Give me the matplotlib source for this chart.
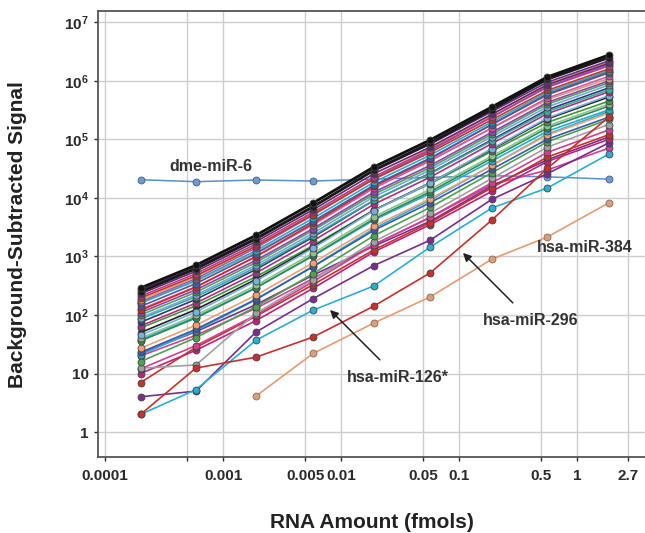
import numpy as np
import matplotlib
matplotlib.use("Agg")
import matplotlib.pyplot as plt
from matplotlib.ticker import FixedLocator, FixedFormatter, NullLocator

plt.rcParams['font.family'] = ['Liberation Sans', 'DejaVu Sans']
plt.rcParams['mathtext.fontset'] = 'custom'
plt.rcParams['mathtext.rm'] = 'Liberation Sans'
plt.rcParams['mathtext.bf'] = 'Liberation Sans:bold'

# RNA amounts (fmols) at which each probe was measured
amounts = [0.0002, 0.00059, 0.0019, 0.0058, 0.019, 0.057, 0.19, 0.56, 1.85]

# Background-subtracted signals, one list per probe
s01 = [290, 710, 2300, 8200, 34000, 98000, 360000, 1170000, 2770000]
s02 = [250, 620, 2000, 7100, 30000, 87000, 325000, 1070000, 2500000]
s03 = [270, 650, 2070, 7200, 29000, 83000, 300000, 950000, 2200000]
s04 = [230, 560, 1790, 6300, 26000, 74000, 270000, 860000, 2000000]
s05 = [210, 510, 1630, 5700, 23000, 67000, 243000, 780000, 1800000]
s06 = [195, 470, 1500, 5200, 21000, 60000, 218000, 690000, 1600000]
s07 = [180, 450, 1490, 5400, 23000, 70000, 265000, 880000, 2100000]
s08 = [160, 390, 1260, 4500, 18600, 54000, 199000, 640000, 1500000]
s09 = [140, 345, 1120, 4000, 16600, 48000, 180000, 580000, 1370000]
s10 = [125, 305, 990, 3500, 14700, 43000, 158000, 510000, 1200000]
s11 = [160, 380, 1180, 4000, 15800, 44000, 156000, 480000, 1100000]
s12 = [110, 270, 860, 3000, 12600, 36000, 133000, 430000, 1000000]
s13 = [100, 245, 790, 2800, 11600, 33000, 123000, 400000, 930000]
s14 = [90, 220, 710, 2500, 10500, 30000, 112000, 360000, 850000]
s15 = [75, 185, 600, 2150, 9100, 26500, 99000, 322000, 760000]
s16 = [65, 160, 520, 1860, 7800, 22700, 85000, 276000, 650000]
s17 = [50, 124, 406, 1460, 6200, 18200, 68000, 224000, 530000]
s18 = [60, 144, 450, 1540, 6200, 17500, 63000, 196000, 450000]
s19 = [40, 99, 320, 1140, 4800, 14000, 52000, 170000, 400000]
s20 = [36, 89, 290, 1040, 4400, 12800, 48000, 157000, 370000]
s21 = [38, 92, 293, 1020, 4200, 11900, 43000, 138000, 320000]
s22 = [27, 67, 218, 780, 3300, 9700, 36000, 119000, 280000]
s23 = [23, 57, 186, 670, 2800, 8300, 31000, 101000, 240000]
s24 = [21, 54, 182, 680, 3000, 9200, 36000, 123000, 300000]
s25 = [16, 41, 138, 510, 2270, 6900, 27000, 91000, 220000]
s26 = [12.3, 14, 107, 400, 1800, 5500, 21600, 74000, 180000]
s27 = [12, 30, 100, 370, 1590, 4700, 18200, 60000, 145000]
s28 = [7, 28, 95, 330, 1300, 3800, 15000, 50000, 120000]
s29 = [10, 25, 80, 286, 1200, 3500, 13000, 42000, 100000]
s30 = [4, 5, 51, 190, 700, 1900, 9500, 26000, 87000]
s31 = [20, 45, 130, 420, 1600, 4600, 17000, 30000, 71000]
s36 = [170, 420, 1400, 5100, 21600, 64000, 242000, 800000, 1900000]
s37 = [120, 300, 1000, 3700, 15900, 47000, 182000, 600000, 1450000]
s38 = [85, 205, 650, 2260, 9200, 26000, 95000, 300000, 700000]
s39 = [45, 113, 380, 1390, 6100, 18000, 70000, 233000, 560000]
s40 = [22, 52, 150, 480, 1500, 4000, 16000, 45000, 110000]

mir126 = [2, 5.3, 37, 121, 314, 1450, 6750, 14800, 56000]
mir296 = [2, 12.4, 19, 42, 142, 525, 4200, 32000, 240000]
mir384 = [np.nan, np.nan, 4.1, 22, 73, 204, 900, 2150, 8200]
dme6 = [20500, 19000, 20300, 19500, 21000, 22500, 24000, 23000, 21000]

bundle = [
    (s31, '#d0409a'), (s40, '#7b2d8e'), (s30, '#7b2d8e'), (s29, '#c02080'),
    (s28, '#c8302c'), (s27, '#d04090'), (s26, '#a0a0a0'), (s25, '#4ea24e'),
    (s24, '#2aaed6'), (s23, '#3a5ba8'), (s22, '#f0a070'), (s21, '#20b0d0'),
    (s20, '#2e8b57'), (s19, '#8bc48b'), (s18, '#3c9a3c'), (s17, '#222222'),
    (s39, '#7aaedc'), (s16, '#b03080'), (s15, '#2b3a7a'), (s38, '#3aa89a'),
    (s14, '#6fa8dc'), (s13, '#5aa05a'), (s12, '#8e44ad'), (s11, '#c8a080'),
    (s10, '#e0559a'), (s37, '#d62728'), (s09, '#3f5fa8'), (s08, '#29a8d0'),
    (s36, '#9b59b6'), (s07, '#e8a060'), (s06, '#c0392b'), (s05, '#c0398f'),
    (s04, '#5b2c6f'), (s03, '#6a2c8a'), (s02, '#1a1a1a'), (s01, '#111111'),
]

x_ticks = [0.0001, 0.0005, 0.001, 0.005, 0.01, 0.05, 0.1, 0.5, 1, 2.7]
x_labels = ['0.0001', '', '0.001', '0.005', '0.01', '0.05', '0.1', '0.5', '1', '2.7']
y_ticks = [1, 10, 1e2, 1e3, 1e4, 1e5, 1e6, 1e7]
y_labels = ['1', '10', r'$\mathbf{10^{2}}$', r'$\mathbf{10^{3}}$', r'$\mathbf{10^{4}}$',
            r'$\mathbf{10^{5}}$', r'$\mathbf{10^{6}}$', r'$\mathbf{10^{7}}$']

fig = plt.figure(figsize=(6.45, 5.33), dpi=100)
ax = fig.add_axes([98/645, 1-457/533, (645-98)/645, (457-11)/533])
ax.set_xscale('log')
ax.set_yscale('log')
ax.set_xlim(8.72e-5, 3.77)
ax.set_ylim(0.374, 1.57e7)

mk = dict(marker='o', markersize=5, markeredgewidth=0.6)

ax.plot(amounts, dme6, color='#5b8fc9', lw=1.1, markerfacecolor='#6f9bd0',
        markeredgecolor='#3d5f8a', zorder=2, **mk)
for vals, c in bundle:
    lw = 2.0 if c in ('#111111', '#1a1a1a') else 1.2
    ax.plot(amounts, vals, color=c, lw=lw, markerfacecolor=c,
            markeredgecolor='#444444', zorder=3, **mk)
ax.plot(amounts, mir126, color='#2aaed6', lw=1.2, markerfacecolor='#2aaed6',
        markeredgecolor='#444444', zorder=3, **mk)
ax.plot(amounts, mir296, color='#c8302c', lw=1.2, markerfacecolor='#c8302c',
        markeredgecolor='#444444', zorder=3, **mk)
ax.plot(amounts, mir384, color='#e89a70', lw=1.2, markerfacecolor='#d9a080',
        markeredgecolor='#8a6a50', zorder=3, **mk)

ax.xaxis.set_major_locator(FixedLocator(x_ticks))
ax.xaxis.set_major_formatter(FixedFormatter(x_labels))
ax.xaxis.set_minor_locator(NullLocator())
ax.yaxis.set_major_locator(FixedLocator(y_ticks))
ax.yaxis.set_major_formatter(FixedFormatter(y_labels))
ax.yaxis.set_minor_locator(NullLocator())
ax.grid(True, color='#cdcdcd', lw=1.0, zorder=0)
ax.set_axisbelow(True)
ax.tick_params(axis='both', labelsize=11, colors='#2a2a2a', length=3, width=1)
ax.tick_params(axis='x', pad=6)
for lab in ax.get_xticklabels() + ax.get_yticklabels():
    lab.set_fontweight('bold')
for side in ('left', 'bottom', 'top'):
    ax.spines[side].set_color('#555555')
    ax.spines[side].set_linewidth(1.3)
ax.spines['right'].set_visible(False)

fig.text(18/645, 1-235/533, 'Background-Subtracted Signal', rotation=90,
         ha='center', va='center', fontsize=15, fontweight='bold', color='#222222')
fig.text(372/645, 1-522/533, 'RNA Amount (fmols)', ha='center', va='center',
         fontsize=15, fontweight='bold', color='#222222')

tkw = dict(fontsize=11.5, fontweight='bold', color='#333333', ha='center', va='center')
ax.text(0.00079, 35000, 'dme-miR-6', **tkw)
ax.text(1.17, 1400, 'hsa-miR-384', **tkw)
ax.annotate('hsa-miR-296', xy=(0.108, 1150), xytext=(0.407, 79), textcoords='data',
            arrowprops=dict(arrowstyle='-|>', color='#222222', lw=1.1,
                            shrinkA=8, shrinkB=0, mutation_scale=12),
            **tkw)
ax.annotate('hsa-miR-126*', xy=(0.00807, 122), xytext=(0.0304, 8.4), textcoords='data',
            arrowprops=dict(arrowstyle='-|>', color='#222222', lw=1.1,
                            shrinkA=8, shrinkB=0, mutation_scale=12),
            **tkw)

fig.savefig('out.png', dpi=100, facecolor='white')
